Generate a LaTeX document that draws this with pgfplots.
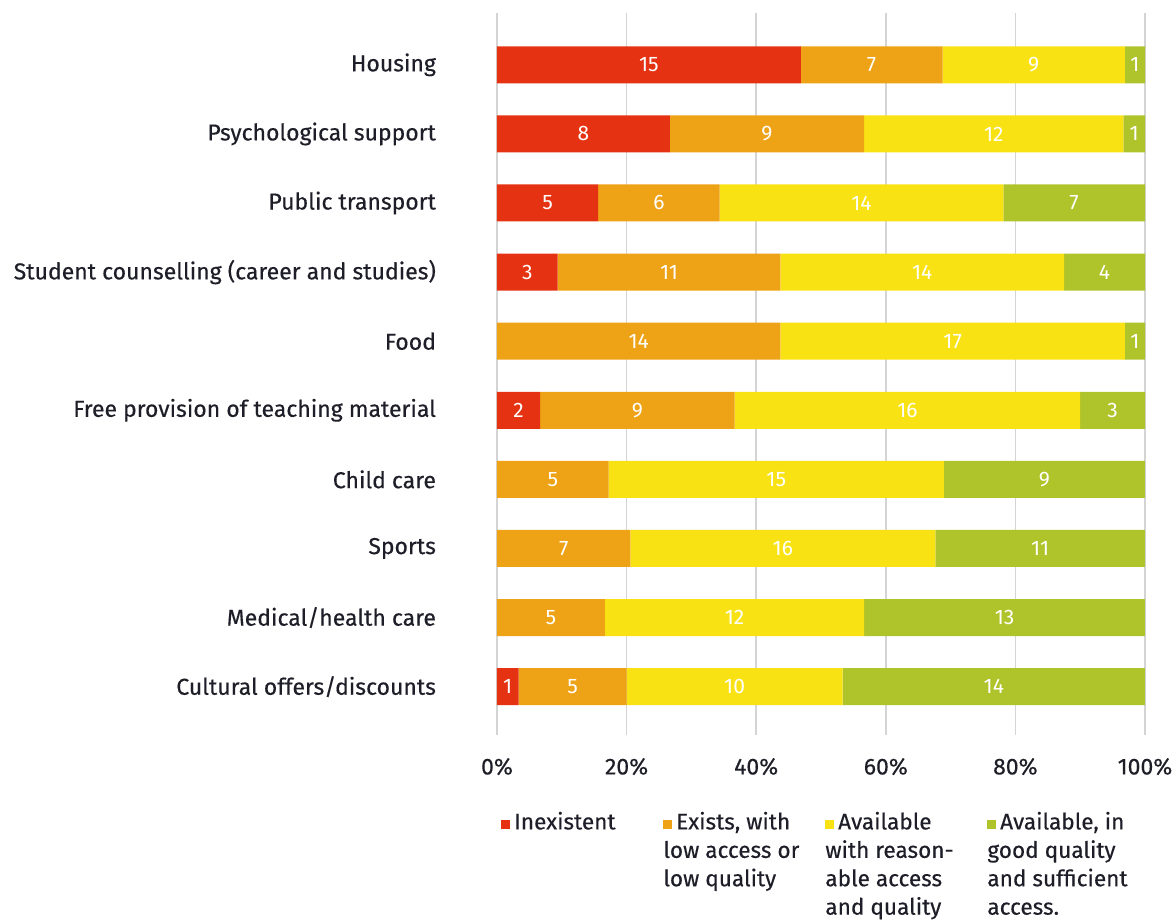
\documentclass[border=0pt]{standalone}
\usepackage{fontspec}
\setmainfont{Fira Sans}
\newfontfamily\medfont{Fira Sans}[FakeBold=0.35]
\usepackage{pgfplots}
\usepackage{pgfplotstable}
\pgfplotsset{compat=1.18}
\definecolor{cA}{HTML}{E53212}
\definecolor{cB}{HTML}{EEA215}
\definecolor{cC}{HTML}{F9E214}
\definecolor{cD}{HTML}{AFC42A}
\definecolor{gridc}{HTML}{D4D4D4}
\definecolor{txt}{HTML}{1E1E28}
\pgfplotstableread{
y a b c d
0 15 7 9 1
1 8 9 12 1
2 5 6 14 7
3 3 11 14 4
4 0 14 17 1
5 2 9 16 3
6 0 5 15 9
7 0 7 16 11
8 0 5 12 13
9 1 5 10 14
}\data
\newcommand{\tot}{(\thisrow{a}+\thisrow{b}+\thisrow{c}+\thisrow{d})}
\begin{document}
\begin{tikzpicture}
\begin{axis}[
  name=ax,
  scale only axis, width=324pt, height=361pt,
  xbar stacked, bar width=18.5pt,
  xmin=0, xmax=100, ymin=-0.75, ymax=9.7, y dir=reverse,
  ytick={0,...,9},
  yticklabels={Housing, Psychological support, Public transport, Student counselling (career and studies), Food, Free provision of teaching material, Child care, Sports, Medical/health care, Cultural offers/discounts},
  xtick={0,20,...,100}, xticklabel={\pgfmathprintnumber{\tick}\%},
  axis line style={draw=none}, major tick length=0pt,
  xmajorgrids, grid style={gridc, line width=0.8pt},
  tick label style={font=\medfont\fontsize{11.5}{13}\selectfont, text=txt},
  yticklabel style={xshift=-27pt},
  xticklabel style={yshift=-8pt},
  /pgf/number format/assume math mode=true,
  point meta=explicit,
  nodes near coords={\pgfmathfloatifflags{\pgfplotspointmeta}{0}{}{\pgfmathprintnumber{\pgfplotspointmeta}}},
  every node near coord/.append style={anchor=center, text=white, font=\fontsize{10.5}{13}\selectfont},
  legend image code/.code={},
  legend columns=4,
  legend style={at={(axis description cs:0,0)}, yshift=-36pt, anchor=north west, draw=none, fill=none, inner sep=0pt,
    /tikz/every odd column/.style={column sep=0pt}, /tikz/every even column/.style={column sep=0pt},
    cells={anchor=north west, inner sep=0pt, font=\medfont\fontsize{11.3}{14.2}\selectfont, text=txt}},
]
\addplot[fill=cA, draw=none]
  table[x expr={\thisrow{a}/\tot*100}, y=y, meta=a] {\data};
\addlegendentry{\parbox[t]{77pt}{\raggedright\textcolor{cA}{\rule{4.5pt}{4.5pt}}\,Inexistent}}
\addplot[fill=cB, draw=none]
  table[x expr={\thisrow{b}/\tot*100}, y=y, meta=b] {\data};
\addlegendentry{\parbox[t]{77pt}{\raggedright\textcolor{cB}{\rule{4.5pt}{4.5pt}}\,Exists, with\\low access or\\low quality}}
\addplot[fill=cC, draw=none]
  table[x expr={\thisrow{c}/\tot*100}, y=y, meta=c] {\data};
\addlegendentry{\parbox[t]{77pt}{\raggedright\textcolor{cC}{\rule{4.5pt}{4.5pt}}\,Available\\with reason-\\able access\\and quality}}
\addplot[fill=cD, draw=none]
  table[x expr={\thisrow{d}/\tot*100}, y=y, meta=d] {\data};
\addlegendentry{\parbox[t]{77pt}{\raggedright\textcolor{cD}{\rule{4.5pt}{4.5pt}}\,Available, in\\good quality\\and sufficient\\access.}}
\end{axis}
\pgfresetboundingbox
\path[use as bounding box] (-248.5pt,-92.5pt) rectangle (339.5pt,367.5pt);
\end{tikzpicture}
\end{document}
